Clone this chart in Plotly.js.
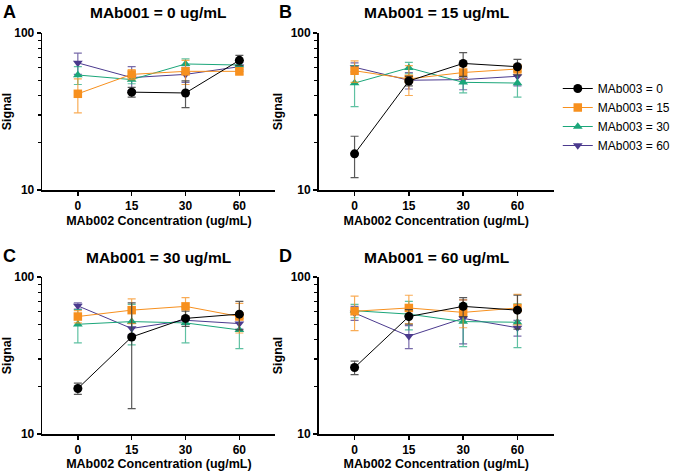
<!DOCTYPE html>
<html>
<head>
<meta charset="utf-8">
<script src="https://cdn.plot.ly/plotly-3.0.1.min.js"></script>
<style>html,body{margin:0;padding:0;background:#fff;}#chart{width:676px;height:471px;}</style>
</head>
<body>
<div id="chart"></div>
<script>
// Categories (MAb002 concentration, ug/mL)
const categories = ["0", "15", "30", "60"];
// Series names (MAb003 concentration)
const seriesNames = ["MAb003 = 0", "MAb003 = 15", "MAb003 = 30", "MAb003 = 60"];
// Panel titles
const panelTitles = ["MAb001 = 0 ug/mL", "MAb001 = 15 ug/mL", "MAb001 = 30 ug/mL", "MAb001 = 60 ug/mL"];
const panelLetters = ["A", "B", "C", "D"];

// Means: rows = series [MAb003 = 0, 15, 30, 60], columns = categories
const meanA = [[null, 42, 41.5, 67], [41, 54.5, 57, 57], [54, 50.5, 63.5, 62.5], [64.5, 52, 54.5, 61]];
const errA  = [[null, 3, 8, 5], [10, 4, 10, 3], [7, 3, 5, 4], [10, 9, 6, 4]];
const meanB = [[17, 49.5, 64, 61], [57.5, 51, 56, 59], [48, 60, 48.5, 48], [60.5, 50, 50.5, 53]];
const errB  = [[5, 3.5, 11, 7], [9, 11, 5, 4], [14, 5, 7, 9], [4, 6, 7, 7]];
const meanC = [[19.5, 41.5, 54.5, 58], [56, 61.5, 65, 56], [50, 52, 51, 46], [65.5, 47, 53, 50.5]];
const errC  = [[1.6, 27, 6, 12], [5, 11, 9, 12], [12, 15, 13, 11], [3, 4, 3, 4]];
const meanD = [[26.5, 56, 65, 61.5], [60.5, 63.5, 59.5, 63.5], [61, 58, 52, 51.5], [59, 42, 54.5, 47.5]];
const errD  = [[2.6, 6, 9, 15], [15, 13, 12, 14], [6, 12, 16, 16], [6, 7, 17, 5.5]];

// Y axis ticks
const yMajor = [10, 100];
const yMinor = [20, 30, 40, 50, 60, 70, 80, 90];

const colors = ["#000000", "#F7901E", "#1BA67A", "#4B3A8E"];
const errColors = ["rgba(60,60,60,0.85)", "rgba(247,144,30,0.75)", "rgba(27,166,122,0.7)", "rgba(75,58,142,0.75)"];
const symbols = ["circle", "square", "triangle-up", "triangle-down"];
const msizes = [9, 8.5, 8.5, 8.5];

const W = 676, H = 471;
const FONT = "Liberation Sans, Arial, Helvetica, sans-serif";
// panel pixel boxes [x0, x1, yTop, yBottom]
const boxes = [[43, 280, 33, 190], [324, 563, 33, 190], [43, 280, 277, 434], [324, 563, 277, 434]];
const means = [meanA, meanB, meanC, meanD];
const errs = [errA, errB, errC, errD];

const traces = [];
const layout = {
  width: W, height: H,
  margin: {l: 0, r: 0, t: 0, b: 0},
  paper_bgcolor: "#fff", plot_bgcolor: "rgba(0,0,0,0)",
  font: {family: FONT, color: "#000"},
  showlegend: true,
  legend: {
    x: 567 / W, y: 1 - 74 / H, xanchor: "left", yanchor: "top",
    font: {family: FONT, size: 12, color: "#000"},
    bgcolor: "rgba(0,0,0,0)", traceorder: "reversed", itemwidth: 30,
    tracegroupgap: 0
  },
  annotations: []
};

const drawOrder = [3, 2, 1, 0];
for (let p = 0; p < 4; p++) {
  const [x0, x1, yT, yB] = boxes[p];
  const xa = p === 0 ? "xaxis" : "xaxis" + (p + 1);
  const ya = p === 0 ? "yaxis" : "yaxis" + (p + 1);
  const xr = p === 0 ? "x" : "x" + (p + 1);
  const yr = p === 0 ? "y" : "y" + (p + 1);
  layout[xa] = {
    domain: [x0 / W, x1 / W], anchor: yr, type: "category",
    range: [-0.66, 3.67], tickmode: "array", tickvals: categories, ticktext: categories,
    showline: true, linecolor: "#000", linewidth: 1.6, ticks: "outside", ticklen: 4, tickwidth: 1.6, tickcolor: "#000",
    showgrid: false, zeroline: false, fixedrange: true,
    tickfont: {family: FONT, size: 12, weight: 700, color: "#000"},
    title: {text: "MAb002 Concentration (ug/mL)", font: {family: FONT, size: 12.5, weight: 700, color: "#000"}, standoff: 4},
    automargin: false
  };
  layout[ya] = {
    domain: [1 - yB / H, 1 - yT / H], anchor: xr, type: "log",
    range: [1, 2], tickmode: "array", tickvals: yMajor, ticktext: yMajor.map(String),
    showline: true, linecolor: "#000", linewidth: 1.6, ticks: "outside", ticklen: 4, tickwidth: 1.6, tickcolor: "#000",
    minor: {tickmode: "array", tickvals: yMinor, ticks: "outside", ticklen: 3, tickwidth: 1.2, tickcolor: "#000", showgrid: false},
    showgrid: false, zeroline: false, fixedrange: true,
    tickfont: {family: FONT, size: 12, weight: 700, color: "#000"},
    title: {text: "Signal", font: {family: FONT, size: 12.5, weight: 700, color: "#000"}, standoff: 5},
    automargin: false
  };
  for (const s of drawOrder) {
    traces.push({
      type: "scatter", mode: "lines+markers",
      x: categories, y: means[p][s], name: seriesNames[s],
      xaxis: xr, yaxis: yr,
      showlegend: p === 0, legendgroup: seriesNames[s],
      line: {color: colors[s], width: 1},
      marker: {symbol: symbols[s], size: msizes[s], color: colors[s], line: {width: 0}},
      error_y: {type: "data", array: errs[p][s], symmetric: true, visible: true, color: errColors[s], thickness: 1.2, width: 4},
      connectgaps: false, cliponaxis: false, hoverinfo: "skip"
    });
  }
  // panel title
  layout.annotations.push({
    text: panelTitles[p], xref: "paper", yref: "paper",
    x: ((x0 + x1) / 2) / W, y: 1 - (yT - 20) / H, xanchor: "center", yanchor: "middle",
    showarrow: false, font: {family: FONT, size: 15.5, weight: 700, color: "#000"}
  });
  // panel letter
  layout.annotations.push({
    text: panelLetters[p], xref: "paper", yref: "paper",
    x: (x0 - 42) / W, y: 1 - (yT - 21) / H, xanchor: "left", yanchor: "middle",
    showarrow: false, font: {family: FONT, size: 18, weight: 700, color: "#000"}
  });
}

Plotly.newPlot("chart", traces, layout, {staticPlot: true, displayModeBar: false});
</script>
</body>
</html>
